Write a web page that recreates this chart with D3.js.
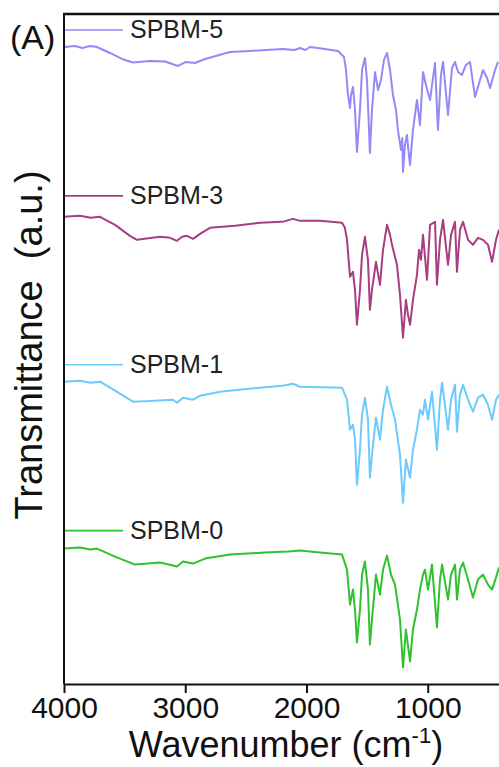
<!DOCTYPE html>
<html>
<head>
<meta charset="utf-8">
<script src="https://cdn.jsdelivr.net/npm/d3@7"></script>
<style>
  body { margin: 0; background: #fff; }
  svg { display: block; font-family: 'Liberation Sans', Arial, sans-serif; }
</style>
</head>
<body>
<svg id="ftir"></svg>
<script>
// series names (top to bottom)
const names = ['SPBM-5', 'SPBM-3', 'SPBM-1', 'SPBM-0'];

// x tick labels
const xTicks = [4000, 3000, 2000, 1000];

// [wavenumber, transmittance a.u.]
const spbm5 = [
    [4000, 63.7], [3909, 63.8], [3850, 63.6], [3786, 63.8], [3728, 63.7], [3621, 63.1], [3522, 62.5],
    [3431, 62.15], [3291, 62.3], [3167, 62.25], [3060, 61.8], [2994, 62.2], [2920, 62.1],
    [2837, 62.5], [2631, 63.2], [2466, 63.3], [2194, 63.5], [2100, 63.4], [2054, 63.6], [2010, 63.4], [1971, 63.7],
    [1848, 63.5], [1740, 63.3], [1691, 62.7], [1674, 61.4], [1658, 58.9], [1641, 57.6],
    [1633, 58.9], [1617, 59.7], [1600, 57.4], [1584, 53.2], [1559, 57.4], [1542, 61.4],
    [1518, 62.6], [1501, 60.4], [1477, 53.1], [1460, 57.4], [1435, 61.2], [1410, 59.4],
    [1386, 60.4], [1361, 62.4], [1336, 63.1], [1311, 61.4], [1287, 58.9], [1262, 57.4],
    [1246, 55.4], [1221, 53.4], [1210, 54.6], [1204, 51.2], [1188, 53.9], [1171, 54.9], [1160, 53.4], [1146, 51.9],
    [1122, 55.4], [1089, 58.4], [1064, 55.9], [1039, 61.2], [1015, 59.9], [981, 58.4],
    [940, 62.1], [916, 55.4], [891, 60.9], [874, 62.2], [833, 56.9], [800, 61.6],
    [775, 62.2], [750, 61.2], [718, 60.9], [685, 61.9], [652, 62.2], [610, 58.7],
    [569, 60.4], [544, 61.4], [511, 60.6], [486, 59.6], [445, 61.4], [420, 62.2]
];

const spbm3 = [
    [4000, 46.7], [3868, 46.8], [3780, 46.6], [3703, 46.7], [3579, 45.9], [3456, 44.8], [3398, 44.4],
    [3208, 44.7], [3126, 44.6], [3068, 44.3], [3027, 44.7], [2986, 44.8], [2936, 44.5],
    [2878, 45.0], [2796, 45.6], [2590, 45.8], [2384, 46.1], [2200, 46.2], [2111, 46.5], [2054, 46.3],
    [1889, 46.3], [1707, 46.1], [1683, 45.6], [1666, 44.4], [1641, 40.7], [1617, 41.2],
    [1600, 39.4], [1584, 35.9], [1559, 39.4], [1542, 42.9], [1518, 44.7], [1493, 42.4],
    [1477, 37.4], [1460, 39.4], [1427, 42.2], [1394, 39.9], [1369, 43.4], [1336, 45.9],
    [1311, 44.9], [1295, 43.9], [1254, 41.9], [1229, 38.9], [1204, 34.6], [1180, 38.4],
    [1163, 36.9], [1146, 35.9], [1122, 38.4], [1089, 40.9], [1072, 43.4], [1056, 42.4],
    [1039, 44.9], [1006, 40.4], [981, 45.9], [940, 46.2], [924, 39.9], [899, 44.4],
    [874, 46.4], [833, 41.9], [808, 44.9], [775, 46.2], [759, 41.2], [734, 45.4],
    [709, 46.2], [668, 44.4], [627, 43.9], [586, 44.6], [544, 44.4], [503, 43.9],
    [470, 42.2], [437, 44.4], [413, 45.4]
];

const spbm1 = [
    [4000, 30.2], [3868, 30.3], [3780, 30.1], [3703, 30.2], [3579, 29.3], [3431, 28.2], [3249, 28.3],
    [3101, 28.4], [3068, 28.1], [3019, 28.6], [2936, 28.4], [2878, 28.8], [2713, 29.2],
    [2384, 29.6], [2200, 29.8], [2111, 30.0], [2054, 29.7], [1707, 29.6], [1666, 28.4], [1641, 25.4],
    [1617, 25.9], [1600, 24.4], [1584, 19.9], [1559, 23.4], [1542, 26.9], [1518, 28.6],
    [1493, 26.4], [1477, 20.6], [1460, 22.9], [1427, 26.6], [1394, 24.4], [1369, 27.4],
    [1336, 29.7], [1303, 27.9], [1270, 26.4], [1229, 22.9], [1204, 18.1], [1180, 22.4],
    [1146, 20.6], [1122, 23.4], [1089, 25.4], [1064, 27.4], [1039, 26.9], [1023, 28.4],
    [998, 26.4], [965, 29.2], [924, 23.4], [899, 28.4], [882, 30.1], [833, 25.4],
    [808, 28.4], [775, 29.9], [759, 25.2], [734, 28.9], [709, 29.9], [668, 28.4],
    [627, 27.2], [586, 28.6], [544, 28.9], [503, 27.9], [470, 26.4], [437, 28.4], [413, 28.9]
];

const spbm0 = [
    [4000, 13.5], [3868, 13.6], [3780, 13.4], [3728, 13.5], [3579, 12.7], [3414, 11.9], [3208, 12.1],
    [3068, 11.7], [3019, 12.2], [2936, 12.0], [2837, 12.5], [2631, 12.9], [2342, 13.1],
    [2150, 13.2], [2054, 13.3], [1889, 13.1], [1707, 12.9], [1666, 11.4], [1641, 7.9], [1617, 9.4],
    [1600, 7.4], [1584, 4.1], [1559, 7.4], [1542, 10.9], [1518, 12.2], [1493, 9.4],
    [1477, 3.9], [1460, 6.4], [1427, 10.9], [1394, 8.9], [1369, 11.4], [1336, 12.8],
    [1303, 10.9], [1270, 9.9], [1229, 6.4], [1204, 1.6], [1180, 5.4], [1146, 2.2],
    [1122, 5.4], [1089, 7.4], [1064, 9.4], [1039, 10.9], [1023, 11.4], [998, 9.4],
    [965, 11.9], [924, 5.6], [899, 10.4], [882, 11.9], [833, 8.4], [808, 10.9],
    [775, 11.9], [759, 8.4], [734, 11.4], [709, 12.1], [668, 10.4], [627, 8.6],
    [586, 10.4], [544, 10.9], [503, 9.9], [470, 9.4], [437, 10.6], [413, 11.6]
];

// legend level (same a.u. as the spectra)
const legendLevels = [65.4, 48.8, 31.9, 15.3];

const series = [spbm5, spbm3, spbm1, spbm0];
const colors = ['#938af6', '#a83d80', '#6ccaff', '#2fc22f'];

const W = 499, H = 767;
const margin = { top: 14, left: 64, bottom: 83 };

const svg = d3.select('#ftir')
    .attr('width', W)
    .attr('height', H);

const x = d3.scaleLinear()
    .domain([4000, 400])
    .range([margin.left, margin.left + 3600 * 0.12125]);

const y = d3.scaleLinear()
    .domain([0, 67])
    .range([H - margin.bottom - 0.5, margin.top]);

const line = d3.line()
    .x(d => x(d[0]))
    .y(d => y(d[1]));

// spectra
svg.selectAll('path.spec')
    .data(series)
    .enter()
    .append('path')
    .attr('class', 'spec')
    .attr('d', line)
    .attr('fill', 'none')
    .attr('stroke', (d, i) => colors[i])
    .attr('stroke-width', 2)
    .attr('stroke-linejoin', 'round');

// legend
const leg = svg.selectAll('g.leg')
    .data(names)
    .enter()
    .append('g')
    .attr('class', 'leg')
    .attr('transform', (d, i) => `translate(0, ${y(legendLevels[i])})`);

leg.append('line')
    .attr('x1', margin.left)
    .attr('x2', 123)
    .attr('stroke', (d, i) => colors[i])
    .attr('stroke-width', 1.7);

leg.append('text')
    .attr('x', 130)
    .attr('dy', 8)
    .text(d => d)
    .style('font-size', '25px')
    .style('fill', '#222');

// bottom axis
const xAxis = svg.append('g')
    .attr('transform', `translate(0, ${H - margin.bottom})`)
    .call(d3.axisBottom(x).tickValues(xTicks).tickSize(9).tickSizeOuter(0).tickFormat(d3.format('d')));

xAxis.select('.domain').attr('stroke', '#111').attr('stroke-width', 2);
xAxis.selectAll('.tick line').attr('stroke', '#111').attr('stroke-width', 2);
xAxis.selectAll('.tick text')
    .attr('y', 13)
    .style('font-size', '30px')
    .style('font-family', "'Liberation Sans', Arial, sans-serif")
    .style('fill', '#111');

// left and top frame lines
svg.append('line')
    .attr('x1', margin.left).attr('x2', margin.left)
    .attr('y1', margin.top).attr('y2', H - margin.bottom)
    .attr('stroke', '#111').attr('stroke-width', 2);

svg.append('line')
    .attr('x1', margin.left - 1).attr('x2', W)
    .attr('y1', margin.top).attr('y2', margin.top)
    .attr('stroke', '#111').attr('stroke-width', 2.5);

// axis titles
const xTitle = svg.append('text')
    .attr('x', 286)
    .attr('y', 757)
    .attr('text-anchor', 'middle')
    .style('font-size', '36px')
    .style('fill', '#111');
xTitle.append('tspan').text('Wavenumber (cm');
xTitle.append('tspan').attr('dy', -14).style('font-size', '22px').text('-1');
xTitle.append('tspan').attr('dy', 14).text(')');

svg.append('text')
    .attr('transform', 'translate(42, 345) rotate(-90)')
    .attr('text-anchor', 'middle')
    .style('font-size', '38px')
    .style('fill', '#111')
    .style('white-space', 'pre')
    .text('Transmittance  (a.u.)');

// panel label
svg.append('text')
    .attr('x', 10)
    .attr('y', 49)
    .style('font-size', '34px')
    .style('fill', '#111')
    .text('(A)');
</script>
</body>
</html>
